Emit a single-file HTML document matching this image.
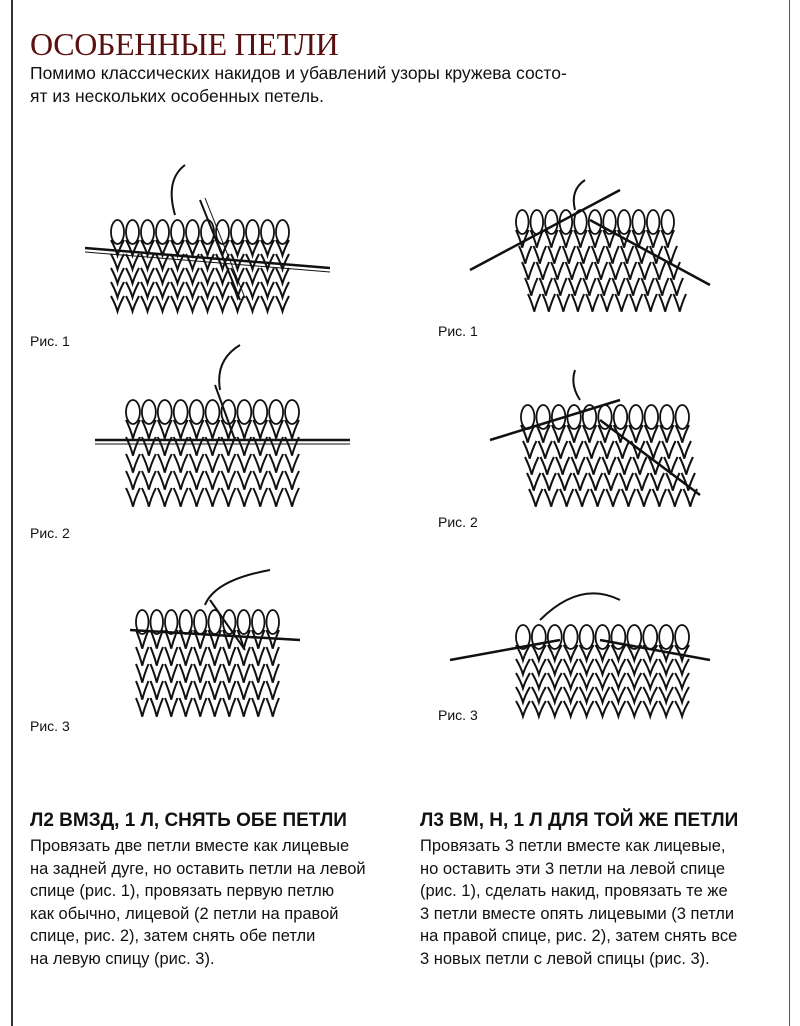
<!DOCTYPE html>
<html><head><meta charset="utf-8">
<style>
body{margin:0;background:#fff;}
#p{position:relative;width:800px;height:1026px;overflow:hidden;background:#fff;font-family:"Liberation Sans Narrow","Liberation Sans",sans-serif;color:#111;}
.t{position:absolute;white-space:nowrap;}
#title{left:30px;top:26px;font-family:"Liberation Serif",serif;font-size:32px;color:#5a1010;letter-spacing:-0.3px;}
.sub{left:30px;font-size:17.5px;}
.lab{font-size:14px;}
.h{font-weight:bold;font-size:19px;top:810px;}
.b{font-size:16.5px;line-height:22.5px;top:835px;}
</style></head><body>
<div id="p">
<div style="position:absolute;left:11px;top:0;width:2px;height:1026px;background:#333"></div>
<div style="position:absolute;left:789px;top:0;width:1px;height:1026px;background:#555"></div>
<svg id="s" width="800" height="1026" style="position:absolute;left:0;top:0"></svg>
<div class="t" id="title">ОСОБЕННЫЕ ПЕТЛИ</div>
<div class="t sub" style="top:63px">Помимо классических накидов и убавлений узоры кружева состо-</div>
<div class="t sub" style="top:86px">ят из нескольких особенных петель.</div>
<div class="t lab" style="left:30px;top:333px">Рис. 1</div>
<div class="t lab" style="left:30px;top:525px">Рис. 2</div>
<div class="t lab" style="left:30px;top:718px">Рис. 3</div>
<div class="t lab" style="left:438px;top:323px">Рис. 1</div>
<div class="t lab" style="left:438px;top:514px">Рис. 2</div>
<div class="t lab" style="left:438px;top:707px">Рис. 3</div>
<div class="t h" style="left:30px">Л2 ВМЗД, 1 Л, СНЯТЬ ОБЕ ПЕТЛИ</div>
<div class="t h" style="left:420px">Л3 ВМ, Н, 1 Л ДЛЯ ТОЙ ЖЕ ПЕТЛИ</div>
<div class="t b" style="left:30px">Провязать две петли вместе как лицевые<br>на задней дуге, но оставить петли на левой<br>спице (рис. 1), провязать первую петлю<br>как обычно, лицевой (2 петли на правой<br>спице, рис. 2), затем снять обе петли<br>на левую спицу (рис. 3).</div>
<div class="t b" style="left:420px">Провязать 3 петли вместе как лицевые,<br>но оставить эти 3 петли на левой спице<br>(рис. 1), сделать накид, провязать те же<br>3 петли вместе опять лицевыми (3 петли<br>на правой спице, рис. 2), затем снять все<br>3 новых петли с левой спицы (рис. 3).</div>
</div>
<script>
var s=document.getElementById('s'),o='';
function L(a,b,c,d,w){o+='<line x1="'+a+'" y1="'+b+'" x2="'+c+'" y2="'+d+'" stroke="#111" stroke-width="'+(w||1.6)+'"/>';}
function fab(x,y,w,h,cols,rows,sk){
 var cw=w/cols,rh=h/rows;
 for(var r=0;r<rows;r++)for(var c=0;c<cols;c++){
  var cx=x+c*cw+cw/2+sk*r,cy=y+r*rh;
  o+='<path d="M'+(cx-cw/2+1)+' '+cy+' Q'+(cx-2)+' '+(cy+rh*0.6)+' '+cx+' '+(cy+rh*1.1)+' Q'+(cx+2)+' '+(cy+rh*0.6)+' '+(cx+cw/2-1)+' '+cy+'" fill="none" stroke="#111" stroke-width="2"/>';
 }
 for(var c=0;c<cols;c++){var cx=x+c*cw+cw/2;
  o+='<ellipse cx="'+cx+'" cy="'+(y-8)+'" rx="'+(cw/2-1)+'" ry="12" fill="none" stroke="#111" stroke-width="1.8"/>';}
}
L(85,248,330,268,2.5);L(85,252,330,272,1);L(200,200,240,300,2);L(205,198,245,298,1);
fab(110,240,180,70,12,5,0);
o+='<path d="M185 165 Q165 180 175 215" fill="none" stroke="#111" stroke-width="2"/>';
L(95,440,350,440,2.5);L(95,444,350,444,1);L(215,385,235,440,2);
fab(125,420,175,85,11,5,0);
o+='<path d="M240 345 Q215 360 220 390" fill="none" stroke="#111" stroke-width="2"/>';
L(130,630,300,640,2.5);L(210,600,245,650,2);
fab(135,630,145,85,10,5,0);
o+='<path d="M270 570 Q215 580 205 605" fill="none" stroke="#111" stroke-width="2"/>';
L(470,270,620,190,2.5);L(590,220,710,285,2.5);
fab(515,230,160,80,11,5,3);
o+='<path d="M585 180 Q570 190 575 210" fill="none" stroke="#111" stroke-width="2"/>';
L(490,440,620,400,2.5);L(600,420,700,495,2.5);
fab(520,425,170,80,11,5,2);
o+='<path d="M575 370 Q570 385 580 400" fill="none" stroke="#111" stroke-width="2"/>';
L(450,660,560,640,2.5);L(600,640,710,660,2.5);
fab(515,645,175,70,11,5,0);
o+='<path d="M540 620 Q580 580 620 600" fill="none" stroke="#111" stroke-width="2"/>';
s.innerHTML=o;
</script>
</body></html>
